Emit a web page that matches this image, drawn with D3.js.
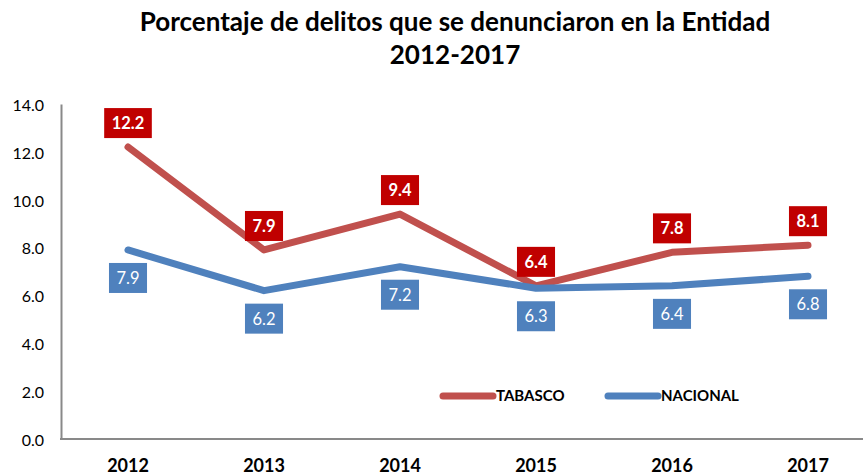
<!DOCTYPE html>
<html>
<head>
<meta charset="utf-8">
<script src="https://cdn.jsdelivr.net/npm/d3@7"></script>
<style>
  html, body { margin: 0; padding: 0; background: #fff; }
  svg { display: block; font-family: Lato, "Open Sans", sans-serif; }
</style>
</head>
<body>
<svg id="chart" width="863" height="475"></svg>
<script>
// Años y porcentajes de delitos denunciados
const years = ["2012", "2013", "2014", "2015", "2016", "2017"];
const tabasco = [12.2, 7.9, 9.4, 6.4, 7.8, 8.1];
const nacional = [7.9, 6.2, 7.2, 6.3, 6.4, 6.8];
const yTicks = [0, 2, 4, 6, 8, 10, 12, 14];
const titleLines = ["Porcentaje de delitos que se denunciaron en la Entidad", "2012-2017"];

const series = [
  { name: "TABASCO", values: tabasco, line: "#C0504D", box: "#C00000", bold: true, above: true },
  { name: "NACIONAL", values: nacional, line: "#4F81BD", box: "#4F81BD", bold: false, above: false }
];

const svg = d3.select("#chart");
const plot = { left: 60, right: 876, top: 104, bottom: 439 };

const x = d3.scaleBand().domain(years).range([plot.left, plot.right]).padding(0);
const cx = d => x(d) + x.bandwidth() / 2;
const y = d3.scaleLinear().domain([0, 14]).range([plot.bottom, plot.top]);

// Título
const title = svg.append("g");
titleLines.forEach((t, i) => {
  title.append("text")
    .attr("x", 455).attr("y", 31 + i * 33)
    .attr("text-anchor", "middle")
    .attr("font-weight", "bold")
    .attr("font-size", 22)
    .attr("fill", "#000")
    .text(t);
});
// Ajusta el tamaño del título al ancho deseado
const t0 = title.select("text").node();
const fs = 22 * 631 / t0.getComputedTextLength();
title.selectAll("text").attr("font-size", fs);

// Eje Y
const yAxis = svg.append("g")
  .attr("transform", `translate(${plot.left + 1},0)`)
  .call(d3.axisLeft(y).tickValues(yTicks).tickFormat(d3.format(".1f")).tickSize(0).tickPadding(17));
yAxis.select(".domain").attr("stroke", "#898989").attr("stroke-width", 2);
yAxis.selectAll("text").attr("font-size", 16).attr("fill", "#000").attr("font-family", "Lato, sans-serif").attr("dy", "0.4em");

// Eje X
const xAxis = svg.append("g")
  .attr("transform", `translate(0,${plot.bottom})`)
  .call(d3.axisBottom(x).tickSize(0).tickPadding(20));
xAxis.select(".domain").attr("stroke", "#898989").attr("stroke-width", 2)
  .attr("d", `M${plot.left},0H${plot.right}`);
xAxis.selectAll("text").attr("font-size", 18).attr("font-weight", "bold").attr("fill", "#000").attr("font-family", "Lato, sans-serif").attr("dy", "0.72em");

// Líneas
const line = d3.line().x((d, i) => cx(years[i])).y(d => y(d));
series.forEach(s => {
  svg.append("path")
    .datum(s.values)
    .attr("d", line)
    .attr("fill", "none")
    .attr("stroke", s.line)
    .attr("stroke-width", 7)
    .attr("stroke-linecap", "round")
    .attr("stroke-linejoin", "round");
});

// Etiquetas de datos
series.forEach(s => {
  const g = svg.append("g");
  s.values.forEach((v, i) => {
    const px = cx(years[i]), py = y(v);
    const lg = g.append("g");
    const txt = lg.append("text")
      .attr("text-anchor", "middle")
      .attr("font-size", 16.5)
      .attr("font-weight", s.bold ? "bold" : "normal")
      .attr("fill", "#fff")
      .text(d3.format(".1f")(v));
    const w = txt.node().getComputedTextLength() + 15;
    const h = 30;
    const by = s.above ? py - 9 - h : py + 13;
    lg.insert("rect", "text")
      .attr("x", px - w / 2).attr("y", by)
      .attr("width", w).attr("height", h)
      .attr("fill", s.box);
    txt.attr("x", px).attr("y", by + h / 2).attr("dy", "0.36em");
  });
});

// Leyenda
const legendPos = [443, 608];
series.forEach((s, i) => {
  const lg = svg.append("g").attr("transform", `translate(${legendPos[i]},396)`);
  lg.append("line")
    .attr("x1", 0).attr("x2", 50).attr("y1", 0).attr("y2", 0)
    .attr("stroke", s.line).attr("stroke-width", 7).attr("stroke-linecap", "round");
  lg.append("text")
    .attr("x", 53).attr("y", 0).attr("dy", "0.36em")
    .attr("font-size", 15).attr("font-weight", "bold").attr("fill", "#000")
    .text(s.name);
});
</script>
</body>
</html>
